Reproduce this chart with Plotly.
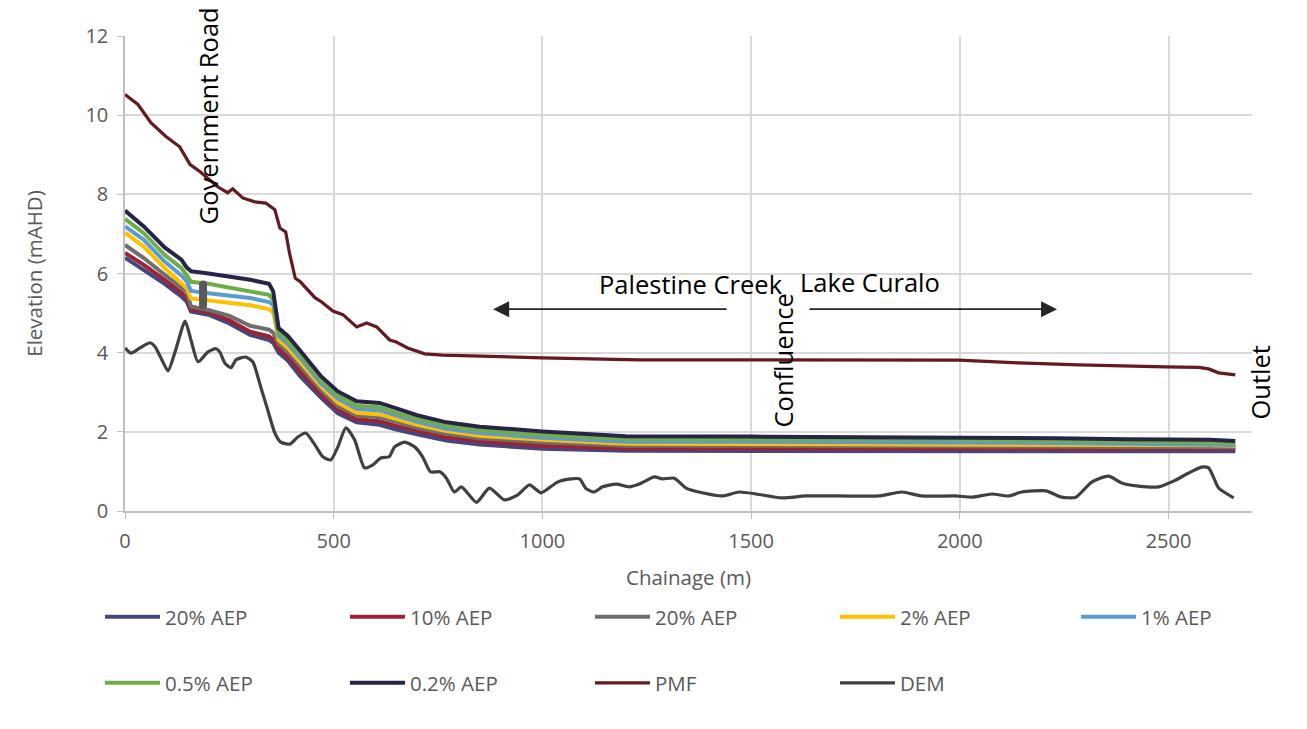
import plotly.graph_objects as go

# ---------------- data ----------------
wl_chainage = [0, 45, 95, 135, 148, 158, 200, 250, 300, 345, 355, 368, 390, 420, 470, 510, 555,
               610, 650, 700, 770, 850, 1000, 1200, 1500, 1950, 2230, 2400, 2600, 2660]

aep20a = [6.40, 6.10, 5.74, 5.42, 5.29, 5.04, 4.96, 4.74, 4.45, 4.32, 4.25, 4.00, 3.80, 3.40, 2.86, 2.47, 2.24,
          2.18, 2.06, 1.94, 1.78, 1.68, 1.57, 1.52, 1.51, 1.51, 1.51, 1.51, 1.51, 1.51]
aep10 = [6.52, 6.22, 5.84, 5.52, 5.38, 5.10, 5.02, 4.82, 4.53, 4.41, 4.33, 4.10, 3.90, 3.52, 2.95, 2.56, 2.32,
         2.27, 2.15, 2.02, 1.86, 1.76, 1.65, 1.58, 1.58, 1.57, 1.57, 1.57, 1.57, 1.57]
aep20b = [6.72, 6.39, 5.97, 5.66, 5.54, 5.17, 5.08, 4.93, 4.68, 4.58, 4.50, 4.22, 4.02, 3.66, 3.05, 2.65, 2.41,
          2.37, 2.24, 2.10, 1.95, 1.84, 1.74, 1.65, 1.65, 1.64, 1.63, 1.62, 1.62, 1.61]
aep2 = [7.03, 6.68, 6.14, 5.78, 5.63, 5.37, 5.32, 5.26, 5.20, 5.10, 5.02, 4.32, 4.12, 3.76, 3.14, 2.74, 2.48,
        2.44, 2.32, 2.18, 2.02, 1.90, 1.80, 1.70, 1.69, 1.69, 1.68, 1.67, 1.66, 1.65]
aep1 = [7.19, 6.85, 6.30, 5.95, 5.80, 5.56, 5.50, 5.45, 5.38, 5.28, 5.20, 4.42, 4.22, 3.86, 3.22, 2.84, 2.58,
        2.54, 2.40, 2.25, 2.08, 1.97, 1.85, 1.75, 1.75, 1.74, 1.72, 1.70, 1.68, 1.67]
aep05 = [7.38, 7.02, 6.47, 6.14, 5.95, 5.79, 5.74, 5.64, 5.56, 5.46, 5.33, 4.50, 4.30, 3.95, 3.30, 2.92, 2.66,
         2.62, 2.48, 2.32, 2.15, 2.04, 1.92, 1.82, 1.81, 1.81, 1.78, 1.75, 1.73, 1.71]
aep02 = [7.59, 7.19, 6.66, 6.35, 6.15, 6.06, 6.00, 5.92, 5.84, 5.74, 5.55, 4.62, 4.42, 4.05, 3.40, 3.02, 2.77,
         2.73, 2.60, 2.42, 2.24, 2.13, 2.01, 1.89, 1.88, 1.87, 1.84, 1.81, 1.80, 1.77]

pmf_chainage = [0, 31, 62, 98, 131, 156, 180, 222, 246, 258, 282, 311, 337, 359, 371, 385, 394, 408, 420,
                455, 471, 498, 522, 543, 555, 579, 603, 634, 650, 677, 718, 761, 849, 1000, 1232, 1854,
                1998, 2141, 2285, 2493, 2572, 2596, 2620, 2660]
pmf = [10.52, 10.27, 9.81, 9.46, 9.20, 8.75, 8.57, 8.19, 8.04, 8.14, 7.91, 7.81, 7.78, 7.61, 7.15, 7.05,
       6.52, 5.88, 5.79, 5.39, 5.28, 5.05, 4.96, 4.75, 4.65, 4.75, 4.65, 4.32, 4.27, 4.12, 3.97, 3.94,
       3.91, 3.87, 3.82, 3.81, 3.81, 3.74, 3.69, 3.64, 3.63, 3.59, 3.49, 3.44]

dem_chainage = [0, 14, 36, 60, 72, 86, 103, 120, 144, 158, 175, 199, 218, 227, 239, 254, 266, 289, 306,
                325, 342, 359, 373, 395, 414, 433, 455, 474, 493, 510, 529, 550, 574, 593, 613, 633, 646,
                670, 694, 713, 732, 754, 770, 789, 806, 842, 873, 909, 940, 969, 997, 1036, 1069, 1089,
                1105, 1124, 1144, 1177, 1208, 1232, 1268, 1287, 1316, 1344, 1383, 1431, 1471, 1512, 1574,
                1632, 1711, 1806, 1861, 1909, 1990, 2029, 2077, 2117, 2148, 2206, 2244, 2278, 2316, 2356,
                2388, 2428, 2476, 2517, 2548, 2579, 2596, 2620, 2636, 2656]
dem = [4.12, 3.99, 4.12, 4.25, 4.15, 3.87, 3.54, 4.02, 4.80, 4.32, 3.77, 4.02, 4.10, 4.02, 3.74, 3.62,
       3.82, 3.89, 3.77, 3.14, 2.55, 1.97, 1.74, 1.69, 1.87, 1.97, 1.67, 1.37, 1.29, 1.62, 2.10, 1.80,
       1.09, 1.16, 1.34, 1.37, 1.62, 1.74, 1.62, 1.37, 0.99, 0.99, 0.83, 0.48, 0.61, 0.22, 0.58, 0.28,
       0.40, 0.66, 0.46, 0.73, 0.81, 0.81, 0.56, 0.48, 0.61, 0.68, 0.61, 0.68, 0.86, 0.81, 0.83, 0.58,
       0.46, 0.38, 0.48, 0.43, 0.33, 0.38, 0.38, 0.38, 0.48, 0.38, 0.38, 0.35, 0.43, 0.38, 0.48, 0.51,
       0.35, 0.35, 0.73, 0.88, 0.71, 0.63, 0.61, 0.78, 0.96, 1.11, 1.09, 0.58, 0.46, 0.33]

culvert_chainage = [187, 187]
culvert_level = [5.20, 5.72]

series_names = ["20% AEP", "10% AEP", "20% AEP", "2% AEP", "1% AEP", "0.5% AEP", "0.2% AEP"]
series_values = [aep20a, aep10, aep20b, aep2, aep1, aep05, aep02]
series_colors = ["#44467f", "#9e2235", "#6e6e6e", "#ffc000", "#5b9bd5", "#70ad47", "#262547"]
series_legend = ["legend", "legend", "legend", "legend", "legend3", "legend2", "legend2"]

x_ticks = [0, 500, 1000, 1500, 2000, 2500]
y_ticks = [0, 2, 4, 6, 8, 10, 12]

# ---------------- figure ----------------
fig = go.Figure()
for nm, vals, col, lg in zip(series_names, series_values, series_colors, series_legend):
    fig.add_trace(go.Scatter(x=wl_chainage, y=vals, name=nm, mode="lines",
                             line=dict(color=col, width=4), legend=lg))
fig.add_trace(go.Scatter(x=pmf_chainage, y=pmf, name="PMF", mode="lines",
                         line=dict(color="#651a22", width=3.2), legend="legend2"))
fig.add_trace(go.Scatter(x=dem_chainage, y=dem, name="DEM", mode="lines",
                         line=dict(color="#404040", width=3.2, shape="spline", smoothing=0.6),
                         legend="legend2"))
fig.add_trace(go.Scatter(x=culvert_chainage, y=culvert_level, mode="lines+markers", showlegend=False,
                         line=dict(color="#5a5a5a", width=8), marker=dict(color="#5a5a5a", size=8)))

tick_font = dict(family="Open Sans", size=20, color="#595959")
title_font = dict(family="Open Sans", size=20.5, color="#595959")
leg_font = dict(family="Open Sans", size=20.5, color="#595959")
grid = "#d9d9d9"

leg_common = dict(orientation="h", xanchor="left", yanchor="middle", itemwidth=55,
                  font=leg_font, bgcolor="rgba(0,0,0,0)")

fig.update_layout(
    width=1299, height=713,
    margin=dict(l=117, r=55, t=28, b=210),
    paper_bgcolor="white", plot_bgcolor="white",
    xaxis=dict(range=[0, 2700], tickvals=x_ticks, showgrid=True, gridcolor=grid, gridwidth=1.5,
               showline=True, linecolor="#bfbfbf", linewidth=1.5, ticks="outside", ticklen=6,
               tickcolor="#bfbfbf", tickfont=tick_font, ticklabelstandoff=5, zeroline=False,
               title=dict(text="Chainage (m)", font=title_font, standoff=18)),
    yaxis=dict(range=[0, 12], tickvals=y_ticks, showgrid=True, gridcolor=grid, gridwidth=1.5,
               showline=True, linecolor="#bfbfbf", linewidth=1.5, ticks="outside", ticklen=6,
               tickcolor="#bfbfbf", tickfont=tick_font, ticklabelstandoff=5, zeroline=False,
               title=dict(text="Elevation (mAHD)", font=title_font, standoff=37)),
    legend=dict(x=-0.0222, y=-0.2232, entrywidth=175, entrywidthmode="pixels", **leg_common),
    legend3=dict(x=0.8438, y=-0.2232, **leg_common),
    legend2=dict(x=-0.0222, y=-0.3621, entrywidth=175, entrywidthmode="pixels", **leg_common),
)

# chart-area border on the right
fig.add_shape(type="line", xref="paper", yref="paper", x0=1.0453, x1=1.0453, y0=-0.45, y1=1.06,
              line=dict(color="#d9d9d9", width=1.2))

ann_font = dict(family="Open Sans", size=25.5, color="black")
fig.add_annotation(x=199, y=9.97, text="Government Road", textangle=-90, showarrow=False, font=ann_font)
fig.add_annotation(x=1357, y=5.73, text="Palestine Creek", showarrow=False, font=ann_font)
fig.add_annotation(x=1785, y=5.79, text="Lake Curalo", showarrow=False, font=ann_font)
fig.add_annotation(x=1577, y=3.81, text="Confluence", textangle=-90, showarrow=False, font=ann_font)
fig.add_annotation(x=1.0072, xref="paper", xanchor="center", y=3.25, text="Outlet", textangle=-90,
                   showarrow=False, font=ann_font)
for tip, tail in [(882, 1445), (2233, 1636)]:
    fig.add_annotation(x=tip, y=5.10, ax=tail, ay=5.10, axref="x", ayref="y", text="",
                       showarrow=True, arrowhead=2, arrowsize=2.0, arrowwidth=1.6, arrowcolor="#262626",
                       standoff=0, startstandoff=0)

fig.write_html("out.html")
